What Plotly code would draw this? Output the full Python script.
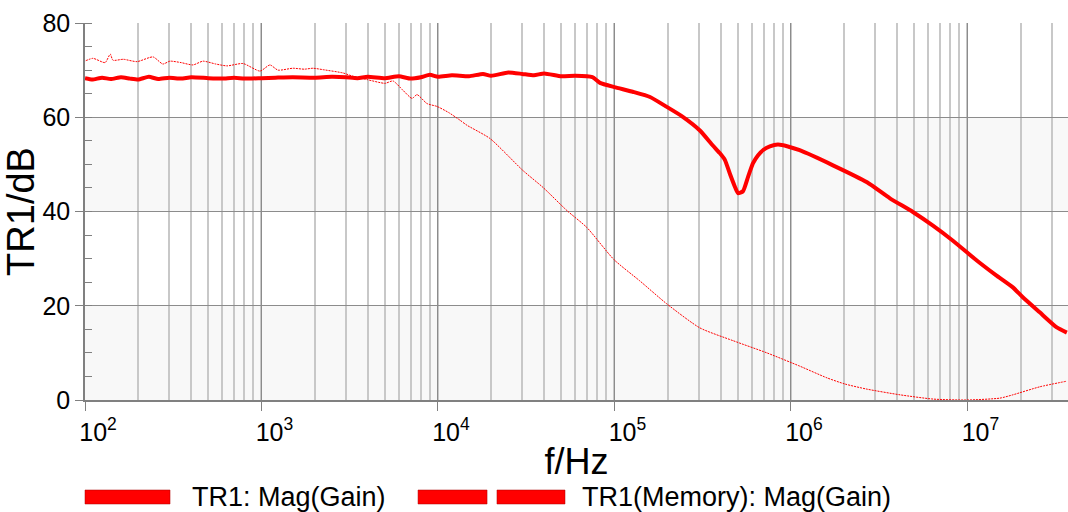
import plotly.graph_objects as go

# ---- data ----
freq_main = [100, 110, 125, 140, 160, 180, 200, 230, 260, 300, 350, 400, 500, 600, 700, 800,
             1000, 1200, 1500, 2000, 2500, 3000, 3500, 4000, 5000, 6000, 7000, 8000, 9000,
             10000, 12000, 15000, 18000, 20000, 25000, 30000, 35000, 40000, 50000, 60000,
             75000, 82800, 100000, 127000, 159000, 198000, 244000, 305000, 361000, 395000,
             423000, 451000, 482000, 501000, 535000, 571000, 609000, 650000, 694000, 760000,
             844000, 961000, 1120000, 1730000, 2700000, 3640000, 4910000, 6380000, 8280000,
             11300000, 14500000, 18100000, 20600000, 25700000, 32100000, 36600000]
gain_main = [68.3, 68.0, 68.4, 68.1, 68.5, 68.2, 68.0, 68.6, 68.1, 68.4, 68.2, 68.5, 68.3, 68.2,
             68.4, 68.2, 68.3, 68.4, 68.5, 68.4, 68.6, 68.5, 68.3, 68.6, 68.3, 68.7, 68.2,
             68.5, 69.0, 68.6, 68.9, 68.7, 69.2, 68.8, 69.5, 69.2, 68.9, 69.3, 68.7, 68.8,
             68.5, 67.3, 66.4, 65.4, 64.3, 62.2, 60.1, 57.2, 54.0, 52.4,
             50.9, 48.0, 45.2, 43.9, 44.3, 47.3, 50.2, 51.9, 53.0, 53.8,
             54.2, 53.8, 53.0, 49.8, 46.2, 42.8, 39.9, 37.0, 33.8,
             29.6, 26.5, 23.9, 21.8, 18.6, 15.4, 14.3]

freq_mem = [101, 111, 130, 139, 144, 165, 197, 243, 276, 303, 350, 409, 466, 550, 638, 786,
            981, 1117, 1240, 1507, 1750, 1958, 2230, 2896, 3297, 3960, 5010, 5560, 6340,
            7130, 7610, 8670, 9870, 11500, 13300, 14600, 19700, 30300, 39400, 53800, 69800,
            99300, 139000, 198000, 305000, 469000, 731000, 1120000, 1600000, 2020000,
            2700000, 4150000, 6380000, 9940000, 15300000, 18100000, 25700000, 36600000]
gain_mem = [72.0, 72.5, 71.6, 73.4, 72.1, 72.3, 71.8, 72.8, 71.3, 71.9, 71.6, 71.1, 71.9, 71.3,
            70.9, 71.4, 69.8, 71.1, 70.0, 70.4, 70.2, 70.4, 70.1, 69.4, 68.7, 68.0, 67.2,
            67.7, 65.7, 64.0, 64.8, 62.9, 62.3, 61.0, 59.4, 58.3, 55.5, 48.7, 45.1, 40.2,
            36.6, 29.8, 25.3, 20.4, 15.3, 12.6, 10.0, 7.2, 4.7, 3.4, 2.3, 1.1, 0.2, 0.0,
            0.4, 1.1, 2.8, 4.0]

x_tick_vals = [1e2, 1e3, 1e4, 1e5, 1e6, 1e7]
x_tick_text = ["10<sup>2</sup>", "10<sup>3</sup>", "10<sup>4</sup>", "10<sup>5</sup>",
               "10<sup>6</sup>", "10<sup>7</sup>"]
y_tick_vals = [0, 20, 40, 60, 80]
band_ranges = [(0, 20), (40, 60)]
series_names = ["TR1: Mag(Gain)", "TR1(Memory): Mag(Gain)"]

RED = "#ff0000"
FONT = "Liberation Sans, Arial, sans-serif"

fig = go.Figure()
fig.add_trace(go.Scatter(x=freq_mem, y=gain_mem, mode="lines", name=series_names[1],
                         line=dict(color=RED, width=1, dash="2px,1px", shape="spline", smoothing=0.6),
                         showlegend=False))
fig.add_trace(go.Scatter(x=freq_main, y=gain_main, mode="lines", name=series_names[0],
                         line=dict(color=RED, width=4, shape="spline", smoothing=0.5),
                         showlegend=False))

shapes = []
for y0, y1 in band_ranges:
    shapes.append(dict(type="rect", xref="paper", yref="y", x0=0, x1=1, y0=y0, y1=y1,
                       fillcolor="#f8f8f8", line=dict(width=0), layer="below"))

# manual legend (paper coordinates)
leg_y0, leg_y1 = -0.2387, -0.2759
shapes.append(dict(type="rect", xref="paper", yref="paper", x0=0.0, x1=0.0865,
                   y0=leg_y0, y1=leg_y1, fillcolor=RED, line=dict(color="#aa0000", width=0.5)))
for xa, xb in [(0.3388, 0.4090), (0.4191, 0.4883)]:
    shapes.append(dict(type="rect", xref="paper", yref="paper", x0=xa, x1=xb,
                       y0=leg_y0, y1=leg_y1, fillcolor=RED, line=dict(color="#aa0000", width=0.5)))

annotations = [
    dict(text=series_names[0], xref="paper", yref="paper", x=0.1068, y=-0.2573,
         xanchor="left", yanchor="middle", showarrow=False, font=dict(size=27, color="black", family=FONT)),
    dict(text=series_names[1], xref="paper", yref="paper", x=0.5036, y=-0.2573,
         xanchor="left", yanchor="middle", showarrow=False, font=dict(size=27, color="black", family=FONT)),
]

fig.update_layout(
    width=1068, height=512,
    margin=dict(l=85, r=0, t=23, b=112, autoexpand=False),
    paper_bgcolor="white", plot_bgcolor="white",
    font=dict(family=FONT, color="black"),
    shapes=shapes, annotations=annotations,
    showlegend=False,
)
fig.update_xaxes(
    type="log", range=[2, 7.57], automargin=False,
    tickvals=x_tick_vals, ticktext=x_tick_text,
    tickfont=dict(size=25), ticklabelshift=13,
    ticks="outside", ticklen=9, tickcolor="#808080", tickwidth=1.2,
    showgrid=True, gridcolor="#8c8c8c", gridwidth=1.2,
    minor=dict(dtick="D1", showgrid=True, gridcolor="#c8c8c8", gridwidth=1.5, ticks=""),
    showline=True, linecolor="#808080", linewidth=1.5,
    title=dict(text="f/Hz", font=dict(size=36), standoff=4),
    zeroline=False,
)
fig.update_yaxes(
    range=[0, 80], tickvals=y_tick_vals, automargin=False,
    tickfont=dict(size=25),
    ticks="outside", ticklen=8, tickcolor="#808080", tickwidth=1.2,
    showgrid=True, gridcolor="#8c8c8c", gridwidth=1.2,
    minor=dict(dtick=5, ticks="inside", ticklen=7, tickcolor="#808080", showgrid=False),
    showline=True, linecolor="#808080", linewidth=1.5,
    title=dict(text="TR1/dB", font=dict(size=38), standoff=2),
    zeroline=False,
)

fig.write_html("out.html", config={"displayModeBar": False},
               post_script="document.body.style.margin='0px';document.body.style.overflow='hidden';")
